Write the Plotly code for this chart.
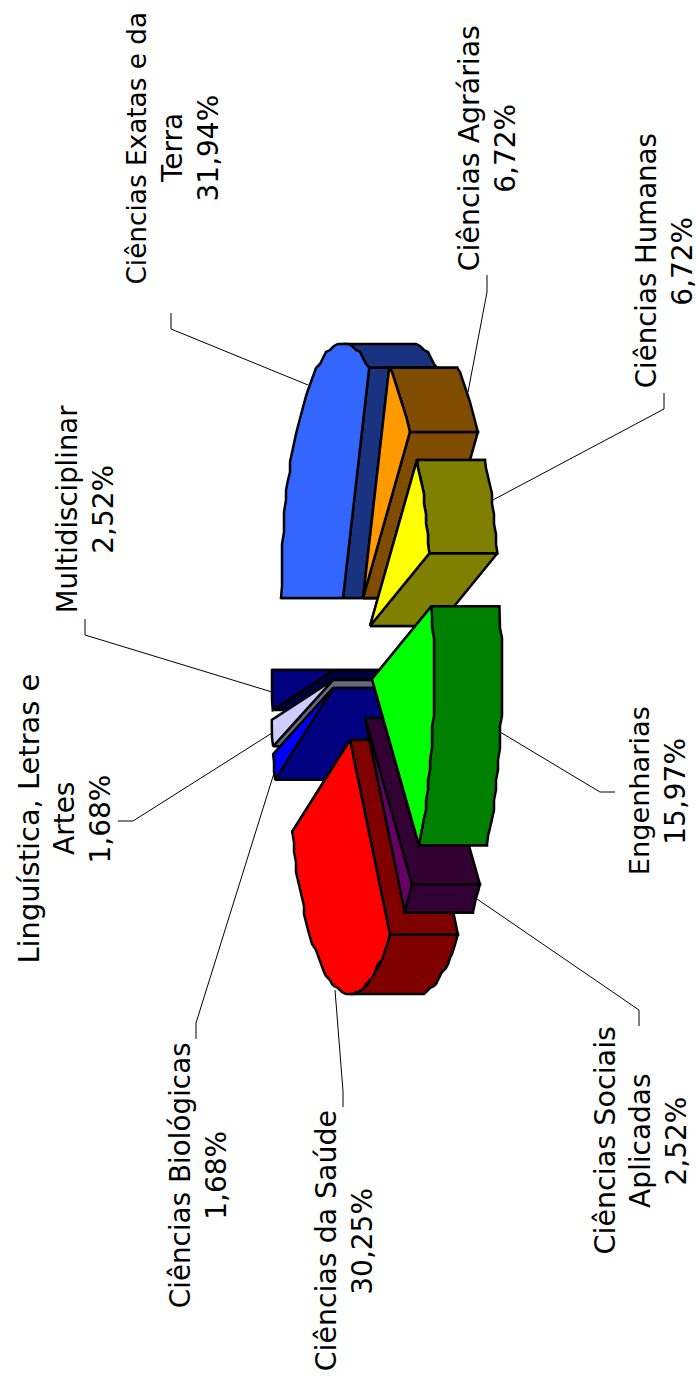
import math
import plotly.graph_objects as go

# ---- data ----
labels = [
    "Ciências Exatas e da<br>Terra", "Ciências Agrárias", "Ciências Humanas", "Engenharias",
    "Ciências Sociais<br>Aplicadas", "Ciências da Saúde", "Ciências Biológicas",
    "Linguística, Letras e<br>Artes", "Multidisciplinar",
]
values = [31.94, 6.72, 6.72, 15.97, 2.52, 30.25, 1.68, 1.68, 2.52]

# ---- styles and layout ----
top_colors = ["#3366ff", "#ff9900", "#ffff00", "#00ff00", "#660066", "#ff0000", "#0000ff", "#ccccff", "#000080"]
side_colors = ["#1a3380", "#804d00", "#808000", "#008000", "#330033", "#800000", "#000080", "#666680", "#000040"]
apex_x = [343, 363, 370, 372, 365, 350, 333, 333, 334]
apex_y = [598, 598, 626, 679, 718, 740, 688, 680, 670]
paint_order = [8, 7, 6, 5, 0, 1, 2, 4, 3]
front_slices = {1, 2, 3, 4}
RX, RY, DEPTH = 62, 254, 68
GRID = 2

label_x = [172, 487, 664, 657, 640, 344, 198, 64, 85]
label_y = [148, 148, 261, 791, 1141, 1241, 1175, 819, 509]
label_size = [26.3, 28.4, 27.6, 27.2, 28.6, 28.4, 27.8, 28.9, 27.5]
other_line_size = 28
line_step = 35.5

leader_x = [[171, 171, 308], [487, 487, 468], [664, 664, 491], [615, 600, 500], [639, 639, 477],
            [343, 343, 335], [196, 196, 275], [118, 133, 272], [85, 85, 272]]
leader_y = [[313, 329, 385], [275, 292, 392], [393, 409, 501], [792, 792, 732], [1026, 1010, 899],
            [1107, 1091, 990], [1039, 1023, 770], [821, 821, 733], [619, 635, 692]]


def edge_point(ax, ay, theta):
    return ax - RX * math.cos(theta), ay - RY * math.sin(theta)


def arc(ax, ay, a0, a1):
    n = max(2, int(abs(a1 - a0) / math.radians(2.5)) + 1)
    pts = []
    for i in range(n + 1):
        px, py = edge_point(ax, ay, a0 + (a1 - a0) * i / n)
        if 0 < i < n:
            px = round(px / GRID) * GRID
            py = round(py / GRID) * GRID
        pts.append((px, py))
    return pts


fig = go.Figure()


def poly(pts, color, name):
    fig.add_trace(go.Scatter(
        x=[p[0] for p in pts] + [pts[0][0]], y=[p[1] for p in pts] + [pts[0][1]],
        mode="lines", fill="toself", fillcolor=color, name=name,
        line=dict(color="#000000", width=2.5), hoverinfo="name", showlegend=False,
    ))


for lx, ly in zip(leader_x, leader_y):
    fig.add_trace(go.Scatter(x=lx, y=ly, mode="lines", line=dict(color="#000000", width=1),
                             hoverinfo="skip", showlegend=False))

total = sum(values)
starts, acc = [], 0.0
for v in values:
    starts.append(acc)
    acc += v

for k in paint_order:
    a0 = 2 * math.pi * starts[k] / total
    a1 = 2 * math.pi * (starts[k] + values[k]) / total
    ax, ay = apex_x[k], apex_y[k]
    p0, p1 = edge_point(ax, ay, a0), edge_point(ax, ay, a1)

    def cut(p):
        return [(ax, ay), (ax + DEPTH, ay), (p[0] + DEPTH, p[1]), p]

    cuts = sorted([p0, p1], key=lambda p: p[0])
    wall = None
    w0, w1 = max(a0, math.pi / 2), min(a1, 3 * math.pi / 2)
    if w1 > w0:
        e = arc(ax, ay, w0, w1)
        wall = e + [(x + DEPTH, y) for x, y in reversed(e)]
    if k in front_slices:
        for p in cuts:
            poly(cut(p), side_colors[k], labels[k])
        if wall:
            poly(wall, side_colors[k], labels[k])
    else:
        if wall:
            poly(wall, side_colors[k], labels[k])
        for p in cuts:
            poly(cut(p), side_colors[k], labels[k])
    poly([(ax, ay)] + arc(ax, ay, a0, a1), top_colors[k], labels[k])

for k, name in enumerate(labels):
    lines = name.split("<br>") + [f"{values[k]:.2f}".replace(".", ",") + "%"]
    for i, line in enumerate(lines):
        fig.add_annotation(
            x=label_x[k] + (i - (len(lines) - 1) / 2) * line_step, y=label_y[k], text=line,
            textangle=-90, showarrow=False, xanchor="center", yanchor="middle",
            font=dict(family="DejaVu Sans", size=label_size[k] if i == 0 else other_line_size, color="#000000"),
        )

fig.update_layout(
    width=697, height=1376, autosize=False, margin=dict(l=0, r=0, t=0, b=0),
    paper_bgcolor="#ffffff", plot_bgcolor="#ffffff",
    xaxis=dict(range=[0, 697], visible=False, fixedrange=True),
    yaxis=dict(range=[1376, 0], visible=False, fixedrange=True),
)
fig.write_html("out.html", post_script="document.body.style.margin='0';document.documentElement.style.overflow='hidden';",
               config={"displayModeBar": False})
